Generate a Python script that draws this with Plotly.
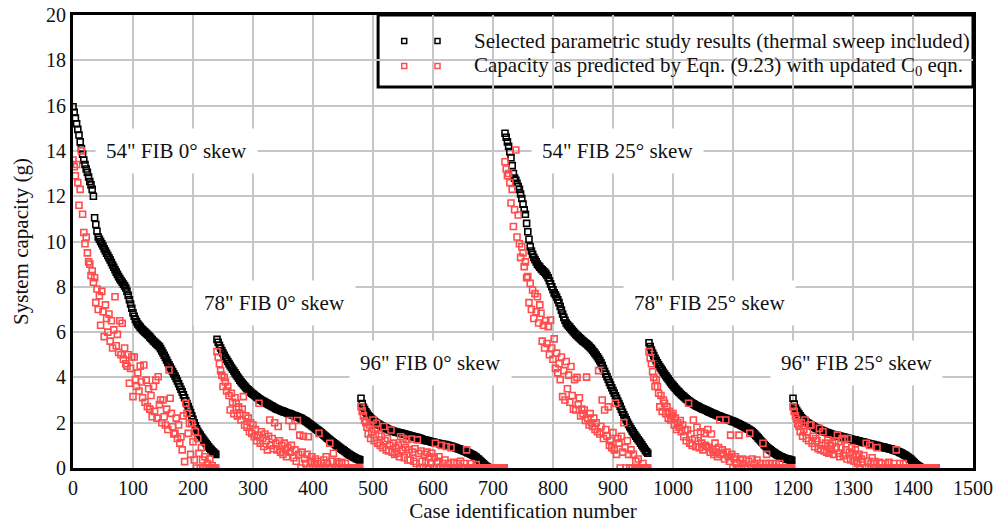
import plotly.graph_objects as go

# ---------------------------------------------------------------------------
# Parametric study: system capacity (g) per case, six bridge groups of 240 cases
# ---------------------------------------------------------------------------
group_labels = ['54" FIB 0° skew', '78" FIB 0° skew', '96" FIB 0° skew',
                '54" FIB 25° skew', '78" FIB 25° skew', '96" FIB 25° skew']
group_first_case = [0, 240, 480, 720, 960, 1200]

CASE_STEP = 2   # values listed for every 2nd case of a group

# Selected parametric study results (thermal sweep included)
study_54_0 = [15.95, 15.7, 15.45, 15.2, 14.95, 14.7, 14.4, 14.1, 13.85, 13.6,
              13.4, 13.2, 13.05, 12.85, 12.65, 12.5, 12.3, 12.0, 11.05, 10.75,
              10.45, 10.2, 10.1, 10.0, 9.9, 9.8, 9.68, 9.58, 9.48, 9.38,
              9.28, 9.18, 9.07, 8.96, 8.86, 8.75, 8.65, 8.55, 8.45, 8.36,
              8.28, 8.2, 8.12, 8.04, 7.95, 7.8, 7.62, 7.43, 7.24, 7.05,
              6.85, 6.7, 6.56, 6.45, 6.36, 6.29, 6.22, 6.16, 6.1, 6.05,
              6.0, 5.95, 5.9, 5.85, 5.79, 5.73, 5.67, 5.61, 5.56, 5.51,
              5.46, 5.41, 5.36, 5.27, 5.17, 5.08, 4.98, 4.88, 4.77, 4.66,
              4.56, 4.46, 4.36, 4.26, 4.16, 4.06, 3.95, 3.84, 3.72, 3.6,
              3.48, 3.36, 3.23, 3.1, 2.97, 2.84, 2.71, 2.58, 2.45, 2.3,
              2.15, 2.0, 1.86, 1.73, 1.62, 1.53, 1.45, 1.37, 1.3, 1.22,
              1.15, 1.08, 1.01, 0.94, 0.87, 0.81, 0.75, 0.7, 0.65, 0.6]
study_78_0 = [5.68, 5.55, 5.42, 5.3, 5.19, 5.08, 4.98, 4.88, 4.79, 4.7,
              4.61, 4.52, 4.44, 4.36, 4.28, 4.2, 4.12, 4.04, 3.96, 3.88,
              3.81, 3.74, 3.68, 3.62, 3.56, 3.5, 3.45, 3.4, 3.35, 3.3,
              3.26, 3.22, 3.18, 3.14, 3.1, 3.06, 3.02, 2.99, 2.96, 2.93,
              2.9, 2.87, 2.84, 2.81, 2.78, 2.75, 2.72, 2.69, 2.66, 2.63,
              2.6, 2.58, 2.56, 2.54, 2.52, 2.5, 2.48, 2.46, 2.44, 2.42,
              2.4, 2.38, 2.36, 2.34, 2.32, 2.3, 2.28, 2.26, 2.24, 2.22,
              2.19, 2.16, 2.13, 2.1, 2.07, 2.03, 1.99, 1.95, 1.91, 1.87,
              1.83, 1.79, 1.75, 1.71, 1.67, 1.63, 1.59, 1.55, 1.5, 1.46,
              1.41, 1.37, 1.32, 1.28, 1.23, 1.19, 1.15, 1.11, 1.07, 1.03,
              0.99, 0.95, 0.91, 0.87, 0.83, 0.8, 0.76, 0.72, 0.68, 0.64,
              0.6, 0.57, 0.54, 0.51, 0.48, 0.45, 0.42, 0.4, 0.38, 0.36]
study_96_0 = [3.08, 2.85, 2.68, 2.58, 2.48, 2.4, 2.32, 2.26, 2.2, 2.15,
              2.1, 2.06, 2.02, 1.99, 1.95, 1.92, 1.89, 1.86, 1.83, 1.8,
              1.77, 1.75, 1.72, 1.7, 1.68, 1.66, 1.64, 1.62, 1.61, 1.59,
              1.58, 1.57, 1.55, 1.54, 1.53, 1.51, 1.5, 1.49, 1.47, 1.45,
              1.44, 1.42, 1.41, 1.4, 1.38, 1.37, 1.36, 1.34, 1.32, 1.31,
              1.29, 1.27, 1.25, 1.23, 1.22, 1.21, 1.19, 1.18, 1.17, 1.15,
              1.14, 1.13, 1.11, 1.1, 1.09, 1.08, 1.07, 1.06, 1.05, 1.04,
              1.03, 1.02, 1.0, 0.99, 0.97, 0.96, 0.95, 0.93, 0.91, 0.89,
              0.87, 0.85, 0.84, 0.82, 0.8, 0.78, 0.75, 0.73, 0.71, 0.68,
              0.66, 0.63, 0.61, 0.58, 0.55, 0.51, 0.47, 0.42, 0.38, 0.33,
              0.28, 0.23, 0.18, 0.13, 0.09, 0.05, 0.02, 0, 0, 0,
              0, 0, 0, 0, 0, 0, 0, 0, 0, 0]
study_54_25 = [14.78, 14.6, 14.4, 14.2, 13.97, 13.7, 13.35, 13.0, 12.8, 12.7,
               12.57, 12.43, 12.3, 12.1, 11.9, 11.65, 11.4, 11.2, 10.8, 10.43,
               10.1, 9.77, 9.58, 9.43, 9.3, 9.2, 9.1, 9.0, 8.93, 8.87,
               8.8, 8.75, 8.69, 8.65, 8.58, 8.5, 8.4, 8.27, 8.13, 8.0,
               7.87, 7.73, 7.65, 7.55, 7.43, 7.3, 7.13, 6.97, 6.8, 6.65,
               6.52, 6.4, 6.33, 6.27, 6.22, 6.15, 6.08, 6.02, 5.96, 5.9,
               5.85, 5.8, 5.75, 5.7, 5.65, 5.6, 5.56, 5.52, 5.48, 5.43,
               5.38, 5.32, 5.27, 5.2, 5.13, 5.06, 4.99, 4.91, 4.83, 4.74,
               4.64, 4.52, 4.39, 4.27, 4.15, 4.03, 3.91, 3.78, 3.66, 3.54,
               3.42, 3.31, 3.19, 3.08, 2.96, 2.84, 2.72, 2.59, 2.46, 2.35,
               2.24, 2.13, 2.02, 1.92, 1.82, 1.73, 1.64, 1.56, 1.48, 1.4,
               1.32, 1.25, 1.18, 1.1, 1.02, 0.94, 0.86, 0.78, 0.71, 0.65]
study_78_25 = [5.53, 5.36, 5.21, 5.08, 4.96, 4.84, 4.74, 4.65, 4.56, 4.47,
               4.39, 4.31, 4.23, 4.15, 4.07, 4.0, 3.93, 3.85, 3.78, 3.71,
               3.65, 3.58, 3.52, 3.46, 3.4, 3.35, 3.29, 3.24, 3.19, 3.15,
               3.1, 3.05, 3.01, 2.97, 2.93, 2.89, 2.86, 2.83, 2.79, 2.76,
               2.73, 2.71, 2.68, 2.65, 2.63, 2.6, 2.58, 2.56, 2.54, 2.51,
               2.48, 2.46, 2.43, 2.41, 2.39, 2.37, 2.34, 2.32, 2.3, 2.28,
               2.26, 2.24, 2.22, 2.2, 2.18, 2.16, 2.14, 2.12, 2.1, 2.08,
               2.06, 2.04, 2.02, 1.99, 1.96, 1.94, 1.91, 1.88, 1.86, 1.83,
               1.8, 1.77, 1.74, 1.71, 1.68, 1.64, 1.6, 1.55, 1.5, 1.44,
               1.39, 1.33, 1.27, 1.21, 1.15, 1.09, 1.03, 0.98, 0.93, 0.88,
               0.84, 0.8, 0.76, 0.72, 0.68, 0.65, 0.61, 0.58, 0.55, 0.52,
               0.49, 0.47, 0.45, 0.43, 0.41, 0.39, 0.38, 0.37, 0.35, 0.34]
study_96_25 = [3.08, 2.82, 2.65, 2.55, 2.46, 2.38, 2.3, 2.23, 2.17, 2.12,
               2.07, 2.03, 1.99, 1.96, 1.92, 1.89, 1.86, 1.83, 1.8, 1.77,
               1.75, 1.72, 1.69, 1.67, 1.65, 1.63, 1.61, 1.59, 1.57, 1.55,
               1.53, 1.51, 1.49, 1.48, 1.47, 1.45, 1.44, 1.43, 1.41, 1.4,
               1.39, 1.37, 1.36, 1.35, 1.33, 1.32, 1.31, 1.29, 1.28, 1.27,
               1.25, 1.24, 1.23, 1.21, 1.2, 1.19, 1.17, 1.16, 1.15, 1.13,
               1.12, 1.11, 1.09, 1.08, 1.07, 1.05, 1.04, 1.03, 1.01, 1.0,
               0.99, 0.97, 0.96, 0.95, 0.93, 0.92, 0.91, 0.89, 0.88, 0.87,
               0.85, 0.84, 0.83, 0.81, 0.8, 0.78, 0.76, 0.74, 0.72, 0.69,
               0.67, 0.64, 0.61, 0.58, 0.55, 0.51, 0.47, 0.43, 0.39, 0.34,
               0.29, 0.24, 0.19, 0.14, 0.1, 0.06, 0.03, 0.01, 0, 0,
               0, 0, 0, 0, 0, 0, 0, 0, 0, 0]

# Capacity as predicted by Eqn. (9.23) with updated C0 eqn.
predicted_54_0 = [13.6, 13.3, 12.9, 13.4, 12.6, 11.6, 12.3, 14.0, 11.2, 10.4,
                  9.9, 10.2, 9.5, 9.1, 9.0, 8.5, 8.7, 8.2, 8.4, 7.3,
                  7.9, 7.0, 7.6, 6.3, 7.8, 6.9, 5.8, 7.2, 6.6, 6.0,
                  6.8, 5.6, 6.5, 5.3, 6.1, 7.56, 5.4, 5.9, 5.1, 6.5,
                  5.0, 6.39, 4.8, 5.3, 4.6, 4.5, 5.0, 3.74, 4.4, 4.9,
                  3.15, 4.9, 3.9, 3.6, 4.2, 3.4, 4.5, 3.8, 3.1, 4.55,
                  2.9, 3.88, 2.71, 3.5, 2.6, 3.2, 2.26, 3.6, 2.5, 3.88,
                  2.2, 4.03, 2.8, 3.0, 2.0, 3.0, 2.26, 1.9, 2.6, 1.7,
                  4.33, 3.08, 2.41, 1.82, 1.5, 1.53, 2.2, 1.3, 1.9, 1.1,
                  1.38, 0.8, 2.3, 0.28, 2.86, 2.41, 1.53, 1.97, 0.6, 1.97,
                  1.16, 0.35, 1.6, 0.0, 1.3, 0.65, 0.0, 0.9, 0.35, 0.0,
                  0.5, 0.0, 0.2, 0.0, 0.4, 0.0, 0.1, 0.0, 0.0, 0.0]
predicted_78_0 = [5.14, 4.9, 4.6, 4.3, 4.1, 3.6, 4.0, 3.8, 3.4, 3.6,
                  3.2, 2.56, 3.3, 2.9, 2.4, 3.1, 2.86, 2.3, 2.7, 2.4,
                  2.12, 2.6, 3.15, 1.9, 2.3, 1.8, 2.2, 1.6, 2.0, 1.53,
                  1.9, 1.38, 1.7, 1.2, 1.45, 2.86, 1.1, 1.6, 1.3, 0.95,
                  1.5, 1.2, 0.8, 1.4, 2.12, 1.0, 1.3, 0.85, 2.0, 1.1,
                  0.8, 1.83, 1.2, 0.7, 1.0, 0.6, 1.1, 0.8, 0.5, 0.9,
                  2.1, 0.7, 1.0, 1.83, 0.45, 0.8, 0.3, 2.1, 0.6, 1.45,
                  0.0, 0.7, 1.4, 0.4, 0.2, 0.6, 1.38, 0.0, 0.3, 0.5,
                  0.0, 0.2, 0.4, 0.0, 0.3, 1.53, 0.0, 0.2, 0.0, 0.35,
                  0.0, 0.5, 0.2, 0.0, 1.09, 0.0, 0.3, 0.65, 0.0, 0.0,
                  0.28, 0.0, 0.2, 0.0, 0.25, 0.0, 0.0, 0.2, 0.0, 0.0,
                  0.0, 0.0, 0.0, 0.0, 0.0, 0.0, 0.0, 0.0, 0.0, 0.0]
predicted_96_0 = [2.71, 2.5, 2.3, 2.1, 2.0, 1.8, 1.5, 1.9, 1.3, 1.6,
                  2.12, 1.2, 1.7, 1.97, 1.1, 1.5, 1.0, 1.4, 0.9, 1.83,
                  1.2, 0.8, 1.3, 0.75, 1.0, 1.68, 0.7, 1.1, 0.6, 0.9,
                  0.65, 1.0, 0.5, 1.38, 0.8, 1.3, 0.45, 0.9, 1.25, 0.35,
                  0.8, 0.35, 1.28, 0.7, 0.3, 0.85, 0.2, 1.24, 0.65, 0.0,
                  0.75, 0.3, 0.0, 0.6, 0.25, 0.7, 0.0, 0.5, 0.2, 0.65,
                  0.0, 0.45, 1.09, 0.0, 0.3, 0.5, 0.0, 1.0, 0.2, 0.0,
                  0.35, 0.95, 0.0, 0.2, 0.0, 0.9, 0.0, 0.25, 0.0, 0.0,
                  0.2, 0.0, 0.0, 0.3, 0.0, 0.0, 0.2, 0.0, 0.8, 0.0,
                  0.0, 0.0, 0.2, 0.0, 0.0, 0.0, 0.15, 0.0, 0.0, 0.0,
                  0.0, 0.0, 0.0, 0.0, 0.0, 0.0, 0.0, 0.0, 0.0, 0.0,
                  0.0, 0.0, 0.0, 0.0, 0.0, 0.0, 0.0, 0.0, 0.0, 0.0]
predicted_54_25 = [13.52, 13.2, 12.9, 13.0, 12.6, 11.7, 12.3, 10.66, 11.4, 14.04,
                   10.2, 11.17, 9.9, 9.3, 9.77, 9.5, 8.89, 9.1, 8.4, 8.45,
                   7.3, 8.15, 7.0, 7.86, 6.6, 7.7, 6.9, 7.56, 6.4, 7.2,
                   6.83, 5.6, 6.3, 5.3, 6.5, 5.5, 6.24, 5.0, 6.53, 5.3,
                   4.8, 5.7, 4.4, 5.07, 4.2, 4.6, 3.9, 4.9, 3.15, 4.3,
                   3.0, 4.7, 3.5, 4.1, 2.9, 4.48, 3.2, 2.6, 3.9, 2.56,
                   4.0, 2.8, 3.1, 2.3, 2.6, 2.4, 2.56, 2.1, 4.01, 2.2,
                   1.9, 2.4, 2.0, 1.83, 2.2, 1.7, 2.0, 1.6, 4.3, 1.5,
                   1.83, 3.0, 1.3, 2.56, 1.7, 1.4, 2.7, 1.0, 1.2, 0.9,
                   1.56, 0.8, 2.86, 0.6, 1.3, 1.1, 0.0, 1.4, 0.7, 2.0,
                   0.9, 0.0, 1.2, 0.6, 0.0, 0.8, 0.0, 0.6, 0.0, 0.3,
                   0.0, 0.4, 0.0, 0.0, 0.0, 0.2, 0.0, 0.0, 0.0, 0.0]
predicted_78_25 = [5.14, 4.85, 4.6, 4.25, 4.0, 3.6, 3.9, 3.6, 3.3, 2.7,
                   3.2, 2.5, 3.0, 2.86, 2.4, 2.7, 2.2, 2.5, 2.12, 2.3,
                   2.4, 1.9, 2.2, 1.7, 2.0, 1.8, 2.1, 1.6, 1.9, 1.38,
                   1.7, 1.2, 1.68, 2.86, 1.1, 1.5, 1.0, 2.12, 1.3, 0.94,
                   1.8, 1.2, 0.9, 1.6, 1.1, 0.8, 1.53, 1.0, 0.94, 1.7,
                   0.9, 0.7, 1.5, 0.8, 0.6, 1.1, 0.7, 0.5, 0.9, 2.12,
                   0.6, 0.8, 0.65, 0.4, 2.12, 0.7, 0.5, 0.3, 1.45, 0.6,
                   0.0, 0.4, 0.5, 0.2, 0.0, 1.45, 0.35, 0.0, 0.4, 0.2,
                   0.0, 0.35, 0.0, 0.3, 1.53, 0.0, 0.4, 0.0, 0.2, 0.0,
                   0.35, 0.0, 0.0, 0.2, 0.0, 1.09, 0.0, 0.2, 0.6, 0.0,
                   0.2, 0.0, 0.0, 0.2, 0.0, 0.0, 0.2, 0.0, 0.0, 0.2,
                   0.0, 0.0, 0.0, 0.0, 0.0, 0.0, 0.0, 0.0, 0.0, 0.0]
predicted_96_25 = [2.71, 2.5, 2.3, 2.15, 1.95, 1.83, 1.6, 2.0, 1.4, 1.7,
                   2.12, 1.3, 1.6, 1.2, 1.9, 1.9, 1.09, 1.4, 0.94, 1.3,
                   1.2, 0.85, 1.75, 0.8, 1.0, 1.6, 0.75, 1.1, 0.7, 1.24,
                   0.65, 1.0, 0.8, 1.1, 0.6, 1.2, 0.9, 1.45, 0.65, 0.5,
                   0.9, 1.3, 0.55, 1.24, 0.8, 0.4, 1.3, 0.7, 0.35, 0.9,
                   0.6, 0.3, 0.8, 0.5, 0.2, 0.6, 0.0, 0.4, 0.25, 0.55,
                   0.0, 1.09, 0.3, 0.0, 1.0, 0.2, 0.45, 0.0, 0.28, 0.0,
                   0.9, 0.0, 0.25, 0.0, 0.2, 0.0, 0.0, 0.2, 0.0, 0.0,
                   0.25, 0.0, 0.0, 0.0, 0.2, 0.0, 0.8, 0.0, 0.0, 0.2,
                   0.0, 0.0, 0.2, 0.0, 0.0, 0.0, 0.0, 0.0, 0.0, 0.0,
                   0.0, 0.0, 0.0, 0.0, 0.0, 0.0, 0.0, 0.0, 0.0, 0.0,
                   0.0, 0.0, 0.0, 0.0, 0.0, 0.0, 0.0, 0.0, 0.0, 0.0]

study_groups = [study_54_0, study_78_0, study_96_0, study_54_25, study_78_25, study_96_25]
predicted_groups = [predicted_54_0, predicted_78_0, predicted_96_0,
                    predicted_54_25, predicted_78_25, predicted_96_25]

legend_names = ["Selected parametric study results (thermal sweep included)",
                "Capacity as predicted by Eqn. (9.23) with updated C<sub>0</sub> eqn."]

# where each group's label sits (case number, capacity)
label_case = [172, 335, 596, 908, 1060, 1305]
label_cap = [14.0, 7.3, 4.62, 14.0, 7.3, 4.62]


def expand(groups, step):
    xs, ys = [], []
    for first, vals in zip(group_first_case, groups):
        for i, v in enumerate(vals):
            xs.append(first + i * step)
            ys.append(v)
    return xs, ys


sx, sy = expand(study_groups, CASE_STEP)
px_, py_ = expand(predicted_groups, CASE_STEP)

BLACK = "#000000"
RED = "#ff4d4d"
SERIF = "Liberation Serif, Times New Roman, serif"
TEXT = "#111111"
MARKER_SIZE = 6
MARKER_EDGE = 1.6

fig = go.Figure()
fig.add_trace(go.Scatter(
    x=sx, y=sy, mode="markers", name=legend_names[0], showlegend=False,
    marker=dict(symbol="square-open", size=MARKER_SIZE, color=BLACK,
                line=dict(width=MARKER_EDGE, color=BLACK)),
))
fig.add_trace(go.Scatter(
    x=px_, y=py_, mode="markers", name=legend_names[1], showlegend=False,
    marker=dict(symbol="square-open", size=MARKER_SIZE, color=RED,
                line=dict(width=MARKER_EDGE, color=RED)),
))

# legend swatches (two markers per entry) on an overlay axis spanning [0, 1]
sw_x = [0.368, 0.405, 0.368, 0.405]
sw_y = [0.9426, 0.9426, 0.8874, 0.8874]
sw_c = [BLACK, BLACK, RED, RED]
fig.add_trace(go.Scatter(
    x=sw_x, y=sw_y, xaxis="x2", yaxis="y2", mode="markers", showlegend=False,
    hoverinfo="skip",
    marker=dict(symbol="square-open", size=5, color=sw_c, line=dict(width=1.5, color=sw_c)),
))

annotations = []
for lab, cx, cy in zip(group_labels, label_case, label_cap):
    annotations.append(dict(
        x=cx, y=cy, xref="x", yref="y", text=lab, showarrow=False,
        font=dict(family=SERIF, size=21, color=TEXT),
        bgcolor="white", borderpad=10, xanchor="center", yanchor="middle",
    ))
for name, yy in zip(legend_names, [0.9426, 0.8874]):
    annotations.append(dict(
        x=0.4433, y=yy, xref="paper", yref="paper", text=name, showarrow=False,
        font=dict(family=SERIF, size=21, color=TEXT),
        xanchor="left", yanchor="middle",
    ))

axis_common = dict(
    showgrid=True, gridcolor="#c6c6c6", gridwidth=1.6, zeroline=False,
    showline=True, linecolor="black", linewidth=3, mirror=True,
    ticks="", automargin=False,
    tickfont=dict(family=SERIF, size=20, color=TEXT),
)

fig.update_layout(
    width=996, height=529,
    margin=dict(l=73, r=23, t=15, b=61, autoexpand=False),
    paper_bgcolor="white", plot_bgcolor="white",
    font=dict(family=SERIF, size=20, color=TEXT),
    xaxis=dict(
        range=[0, 1500], dtick=100, tick0=0, **axis_common,
        title=dict(text="Case identification number", standoff=2,
                   font=dict(family=SERIF, size=21, color=TEXT)),
    ),
    yaxis=dict(
        range=[0, 20], dtick=2, tick0=0, **axis_common,
        title=dict(text="System capacity (g)", standoff=12,
                   font=dict(family=SERIF, size=21, color=TEXT)),
    ),
    xaxis2=dict(range=[0, 1], domain=[0, 1], overlaying="x", visible=False, fixedrange=True),
    yaxis2=dict(range=[0, 1], domain=[0, 1], overlaying="y", visible=False, fixedrange=True),
    shapes=[dict(type="rect", xref="paper", yref="paper", x0=0.339, x1=1.0, y0=0.841, y1=1.0,
                 line=dict(color="black", width=3), fillcolor="white", layer="between")],
    annotations=annotations,
)

fig.write_html("out.html")
